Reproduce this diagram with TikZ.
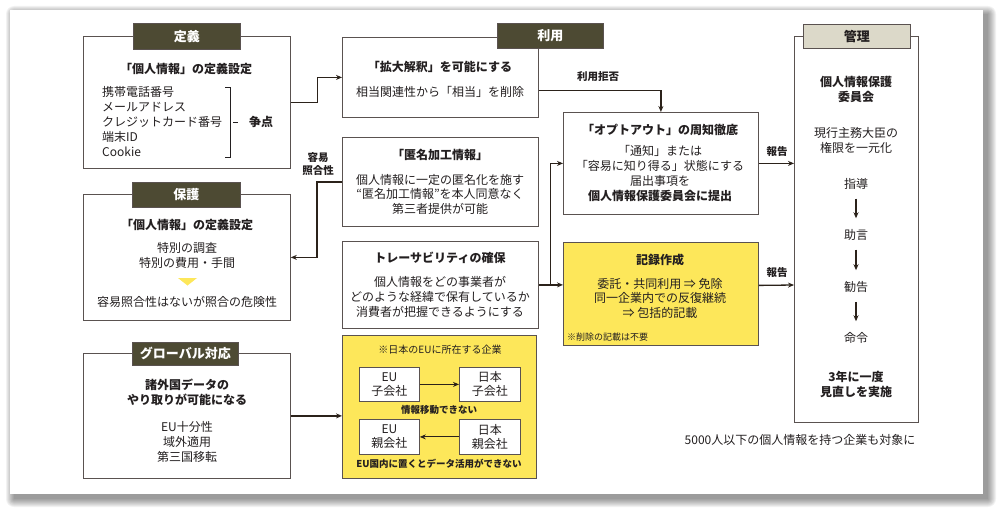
\documentclass[tikz,border=0pt]{standalone}
\usepackage{fontspec}
\setmainfont{Noto Sans CJK JP}
\usetikzlibrary{arrows.meta}
\definecolor{boxc}{HTML}{5A5250}
\definecolor{linec}{HTML}{2B221A}
\definecolor{olive}{HTML}{4D4A33}
\definecolor{tabgray}{HTML}{DCD9C9}
\definecolor{txtc}{HTML}{231F20}
\definecolor{yel}{HTML}{FDE75A}
\begin{document}
\begin{tikzpicture}[x=1pt,y=-1pt,
 box/.style={draw=boxc, line width=0.8pt, fill=white, inner sep=0pt, anchor=north west},
 ybox/.style={box, fill=yel},
 tabd/.style={draw=boxc, line width=0.8pt, fill=olive, text=white, font=\fontsize{13}{13}\selectfont\bfseries, inner sep=0pt, anchor=north west},
 tabl/.style={tabd, fill=tabgray, text=txtc},
 t/.style={inner sep=0pt, align=center, text=txtc, font=\fontsize{12}{15}\selectfont},
 h/.style={t, font=\fontsize{12}{15}\selectfont\bfseries},
 lbl/.style={t, font=\fontsize{10.5}{13}\selectfont\bfseries},
 it/.style={t, font=\fontsize{12}{14}\selectfont},
 conn/.style={draw=linec, line width=1.3pt},
 arr/.style={conn, -{Stealth[length=6pt,width=5pt]}},
]
\useasboundingbox (0,0) rectangle (1000,511);
\fill[white] (0,0) rectangle (1000,511);
% panel with shadow
\foreach \s in {0,1,...,8}
  \fill[black,opacity=0.05,rounded corners=\s pt] ({14-\s},{14-\s}) rectangle ({988+\s},{499+\s});
\fill[white] (10,10) rectangle (983,494);

% ---------- left column ----------
\node[box, minimum width=207pt, minimum height=132pt] (def) at (83,36) {};
\node[tabd, minimum width=107pt, minimum height=26pt] (tdef) at (133,23) {定義};
\node[h] (defh) at (186,69) {「個人情報」の定義設定};
\node[t, anchor=west, align=left] (deflist) at (102,122) {携帯電話番号\\メールアドレス\\クレジットカード番号\\端末ID\\Cookie};
\draw[draw=txtc, line width=0.8pt] (225,87) -- (230,87) -- (230,157) -- (225,157);
\draw[draw=txtc, line width=0.8pt] (233,122) -- (238,122);
\node[h] (soten) at (261,122) {争点};

\node[box, minimum width=207pt, minimum height=126pt] (hogo) at (83,194) {};
\node[tabd, minimum width=108pt, minimum height=25pt] (thogo) at (132,182) {保護};
\node[h] (hogoh) at (187,225) {「個人情報」の定義設定};
\node[t] (hogob) at (187,255.5) {特別の調査\\特別の費用・手間};
\fill[yel] (178,278) -- (197,278) -- (187.5,285.5) -- cycle;
\node[t] (hogoc) at (187,302) {容易照合性はないが照合の危険性};

\node[box, minimum width=207pt, minimum height=125pt] (glob) at (83,353) {};
\node[tabd, minimum width=106pt, minimum height=23pt] (tglob) at (132,342) {グローバル対応};
\node[h] (globh) at (187,392.5) {諸外国データの\\やり取りが可能になる};
\node[t] (globb) at (187,442) {EU十分性\\域外適用\\第三国移転};

% ---------- middle column ----------
\node[box, minimum width=196pt, minimum height=80pt] (kaku) at (342,37) {};
\node[h] (kakuh) at (440,67) {「拡大解釈」を可能にする};
\node[t] (kakub) at (440,92) {相当関連性から「相当」を削除};

\node[box, minimum width=196pt, minimum height=89pt] (toku) at (342,137) {};
\node[h] (tokuh) at (440,155) {「匿名加工情報」};
\node[t, font=\fontsize{12}{14.5}\selectfont] (tokub) at (440,194) {個人情報に一定の匿名化を施す\\“匿名加工情報”を本人同意なく\\第三者提供が可能};

\node[box, minimum width=196pt, minimum height=87pt] (trace) at (342,241) {};
\node[h] (traceh) at (440,258) {トレーサビリティの確保};
\node[t] (traceb) at (440,297) {個人情報をどの事業者が\\どのような経緯で保有しているか\\消費者が把握できるようにする};

\node[ybox, minimum width=194pt, minimum height=143pt] (eu) at (342,335) {};
\node[t, font=\fontsize{10}{12}\selectfont] (euh) at (440,350) {※日本のEUに所在する企業};
\node[box, minimum width=60pt, minimum height=34pt] (euko) at (359,367) {};
\node[it] (eukot) at (euko.center) {EU\\子会社};
\node[box, minimum width=61pt, minimum height=34pt] (jpko) at (459,367) {};
\node[it] (jpkot) at (jpko.center) {日本\\子会社};
\node[t, font=\fontsize{9.5}{12}\selectfont\bfseries] (eumid) at (439,410) {情報移動できない};
\node[box, minimum width=60pt, minimum height=35pt] (euoya) at (359,419) {};
\node[it] (euoyat) at (euoya.center) {EU\\親会社};
\node[box, minimum width=61pt, minimum height=35pt] (jpoya) at (459,419) {};
\node[it] (jpoyat) at (jpoya.center) {日本\\親会社};
\node[t, font=\fontsize{9.5}{12}\selectfont\bfseries] (eubot) at (439,464) {EU国内に置くとデータ活用ができない};
\draw[arr, line width=1.1pt] (euko.east) -- (jpko.west);
\draw[arr, line width=1.1pt] (jpoya.west) -- (euoya.east);

\node[tabd, minimum width=106pt, minimum height=25pt] (triyo) at (497,23) {利用};

% ---------- right-middle column ----------
\node[box, minimum width=195pt, minimum height=102pt] (opt) at (563,112) {};
\node[h] (opth) at (660,130) {「オプトアウト」の周知徹底};
\node[t] (optb) at (660,166) {「通知」または\\「容易に知り得る」状態にする\\届出事項を};
\node[h] (optc) at (660,196) {個人情報保護委員会に提出};

\node[ybox, minimum width=195pt, minimum height=103pt] (kiroku) at (563,242) {};
\node[h] (kirokuh) at (660,260) {記録作成};
\node[t, font=\fontsize{12}{14.5}\selectfont] (kirokub) at (660,298) {委託・共同利用 ⇒ 免除\\同一企業内での反復継続\\⇒ 包括的記載};
\node[t, anchor=west, font=\fontsize{9}{11}\selectfont] (kirokuc) at (567,337) {※削除の記載は不要};

% ---------- right column ----------
\node[box, minimum width=124pt, minimum height=386pt] (kanri) at (794,36) {};
\node[tabl, minimum width=107pt, minimum height=24pt] (tkanri) at (803,24) {管理};
\node[h] (kanrih) at (856,89) {個人情報保護\\委員会};
\node[t] (kanrib) at (856,140.5) {現行主務大臣の\\権限を一元化};
\node[t] (shido) at (856,184) {指導};
\node[t] (jogen) at (856,235) {助言};
\node[t] (kankoku) at (856,287) {勧告};
\node[t] (meirei) at (856,338) {命令};
\node[h] (minaoshi) at (856,384) {3年に一度\\見直しを実施};
\draw[arr, line width=1.2pt] ([yshift=-9pt]shido.south) -- ([yshift=11pt]jogen.north);
\draw[arr, line width=1.2pt] ([yshift=-9pt]jogen.south) -- ([yshift=11pt]kankoku.north);
\draw[arr, line width=1.2pt] ([yshift=-9pt]kankoku.south) -- ([yshift=11pt]meirei.north);

\node[t, font=\fontsize{12}{14}\selectfont] (foot) at (800,440) {5000人以下の個人情報を持つ企業も対象に};

% ---------- connectors ----------
\draw[arr] (def.east) -- ++(27,0) |- (kaku.west);
\draw[arr] (toku.west) -- ++(-25,0) |- (hogo.east);
\node[lbl] (yoi) at (318,164.5) {容易\\照合性};
\draw[arr] (glob.east) -- (eu.west |- glob.east);
\draw[arr] ([yshift=-13pt]kaku.east) -| (opt.north);
\node[lbl] (kyohi) at (598,77) {利用拒否};
\draw[arr] (trace.east) -- (kiroku.west |- trace.east);
\draw[arr] ([xshift=12pt]trace.east) |- (opt.west);
\draw[arr] (opt.east) -- (kanri.west |- opt.east);
\node[lbl] (hokoku1) at (777,152) {報告};
\draw[arr] ([yshift=8.5pt]kiroku.east) -- (kanri.west |- 0,285);
\node[lbl] (hokoku2) at (777,273) {報告};
\end{tikzpicture}
\end{document}
